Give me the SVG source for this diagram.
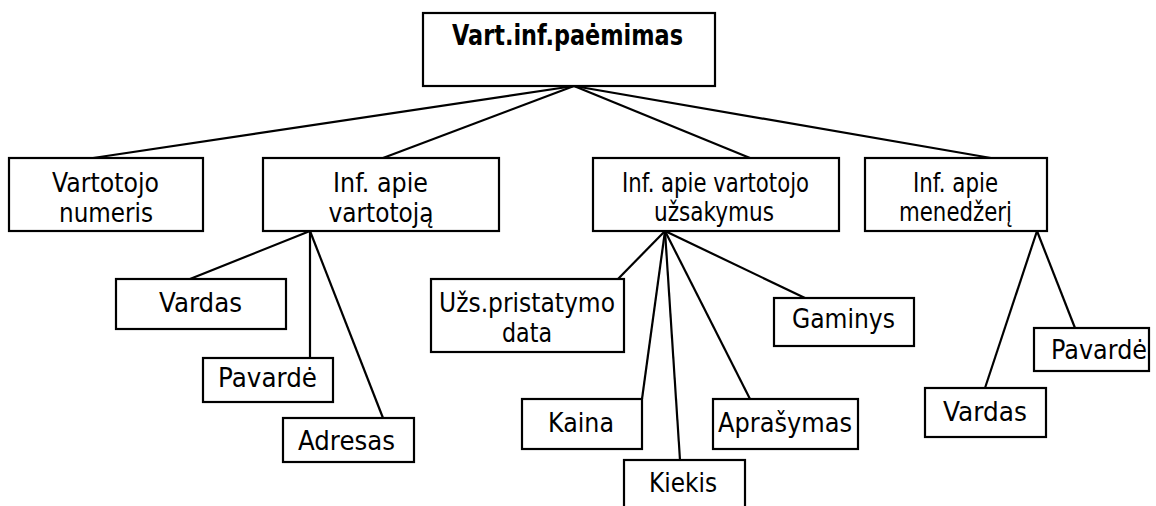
<svg xmlns="http://www.w3.org/2000/svg" width="1156" height="506" viewBox="0 0 1156 506">
  <style>
    .box { fill: #ffffff; stroke: #000000; stroke-width: 2.2; }
    .link { fill: none; stroke: #000000; stroke-width: 2.2; }
    text { font-family: "DejaVu Sans", "Liberation Sans", sans-serif; font-size: 26px; fill: #000000; text-anchor: middle; }
    .title { font-weight: bold; font-size: 28px; }
  </style>

  <!-- tree connectors -->
  <g id="connectors">
    <line class="link" x1="574" y1="86" x2="93" y2="158"/>
    <line class="link" x1="574" y1="86" x2="383" y2="158"/>
    <line class="link" x1="574" y1="86" x2="750" y2="158"/>
    <line class="link" x1="574" y1="86" x2="991" y2="158"/>

    <line class="link" x1="310" y1="231" x2="190" y2="279"/>
    <line class="link" x1="310" y1="231" x2="310" y2="358"/>
    <line class="link" x1="310" y1="231" x2="383" y2="418"/>

    <line class="link" x1="665" y1="231" x2="618" y2="279"/>
    <line class="link" x1="665" y1="231" x2="642" y2="399"/>
    <line class="link" x1="665" y1="231" x2="680" y2="460"/>
    <line class="link" x1="665" y1="231" x2="750" y2="399"/>
    <line class="link" x1="665" y1="231" x2="805" y2="298"/>

    <line class="link" x1="1037" y1="231" x2="1075" y2="328"/>
    <line class="link" x1="1037" y1="231" x2="985" y2="388"/>
  </g>

  <g id="root">
    <rect class="box" x="423" y="13" width="292" height="73"/>
    <text class="title" x="567.5" y="45" textLength="231" lengthAdjust="spacingAndGlyphs">Vart.inf.paėmimas</text>
  </g>

  <g id="vartotojo-numeris">
    <rect class="box" x="9" y="158" width="194" height="73"/>
    <text x="105.5" y="192" textLength="107" lengthAdjust="spacingAndGlyphs">Vartotojo</text>
    <text x="106" y="222" textLength="94" lengthAdjust="spacingAndGlyphs">numeris</text>
  </g>

  <g id="inf-vartotoja">
    <rect class="box" x="263" y="158" width="236" height="73"/>
    <text x="380.5" y="192" textLength="95" lengthAdjust="spacingAndGlyphs">Inf. apie</text>
    <text x="381" y="222" textLength="105" lengthAdjust="spacingAndGlyphs">vartotoją</text>
  </g>

  <g id="inf-uzsakymus">
    <rect class="box" x="593" y="158" width="246" height="73"/>
    <text x="715.5" y="192" textLength="187" lengthAdjust="spacingAndGlyphs">Inf. apie vartotojo</text>
    <text x="714" y="221" textLength="120" lengthAdjust="spacingAndGlyphs">užsakymus</text>
  </g>

  <g id="inf-menedzeri">
    <rect class="box" x="865" y="158" width="182" height="73"/>
    <text x="955.5" y="192" textLength="85" lengthAdjust="spacingAndGlyphs">Inf. apie</text>
    <text x="955.5" y="221" textLength="113" lengthAdjust="spacingAndGlyphs">menedžerį</text>
  </g>

  <g id="vardas-1">
    <rect class="box" x="116" y="279" width="170" height="50"/>
    <text x="200.5" y="312" textLength="83" lengthAdjust="spacingAndGlyphs">Vardas</text>
  </g>

  <g id="pavarde-1">
    <rect class="box" x="203" y="358" width="130" height="44"/>
    <text x="267.5" y="387" textLength="99" lengthAdjust="spacingAndGlyphs">Pavardė</text>
  </g>

  <g id="adresas">
    <rect class="box" x="283" y="418" width="131" height="44"/>
    <text x="346.5" y="450" textLength="97" lengthAdjust="spacingAndGlyphs">Adresas</text>
  </g>

  <g id="pristatymo-data">
    <rect class="box" x="431" y="279" width="193" height="73"/>
    <text x="527" y="312" textLength="176" lengthAdjust="spacingAndGlyphs">Užs.pristatymo</text>
    <text x="527" y="342" textLength="50" lengthAdjust="spacingAndGlyphs">data</text>
  </g>

  <g id="kaina">
    <rect class="box" x="522" y="399" width="120" height="50"/>
    <text x="581" y="432" textLength="66" lengthAdjust="spacingAndGlyphs">Kaina</text>
  </g>

  <g id="kiekis">
    <rect class="box" x="624" y="460" width="121" height="56"/>
    <text x="683" y="492" textLength="68" lengthAdjust="spacingAndGlyphs">Kiekis</text>
  </g>

  <g id="aprasymas">
    <rect class="box" x="713" y="399" width="145" height="50"/>
    <text x="785" y="432" textLength="134" lengthAdjust="spacingAndGlyphs">Aprašymas</text>
  </g>

  <g id="gaminys">
    <rect class="box" x="774" y="298" width="140" height="48"/>
    <text x="843.5" y="328" textLength="103" lengthAdjust="spacingAndGlyphs">Gaminys</text>
  </g>

  <g id="pavarde-2">
    <rect class="box" x="1034" y="328" width="115" height="43"/>
    <text x="1099" y="359" textLength="96" lengthAdjust="spacingAndGlyphs">Pavardė</text>
  </g>

  <g id="vardas-2">
    <rect class="box" x="925" y="388" width="121" height="49"/>
    <text x="985" y="421" textLength="84" lengthAdjust="spacingAndGlyphs">Vardas</text>
  </g>
</svg>
